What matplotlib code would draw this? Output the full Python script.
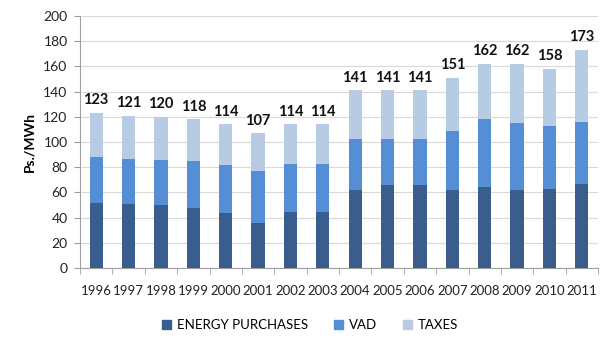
import matplotlib
matplotlib.use("Agg")
import matplotlib.pyplot as plt
import numpy as np
from matplotlib.patches import Patch

years = [str(y) for y in range(1996, 2012)]
energy = [51.5, 50.9, 50.1, 47.7, 43.5, 35.9, 44.3, 44.3, 62.2, 65.7, 65.7, 61.7, 64.1, 62.2, 63.0, 66.7]
vad_top = [87.9, 86.8, 85.7, 84.7, 82.0, 76.8, 82.6, 82.6, 102.1, 102.1, 102.1, 109.0, 118.0, 115.3, 112.7, 115.8]
totals = [123, 121, 120, 118, 114, 107, 114, 114, 141, 141, 141, 151, 162, 162, 158, 173]

vad = [v - e for v, e in zip(vad_top, energy)]
taxes = [t - v for t, v in zip(totals, vad_top)]

plt.rcParams['font.family'] = ['Lato', 'DejaVu Sans']

c_energy = '#395E8E'
c_vad = '#558ED5'
c_tax = '#B7CBE4'

fig = plt.figure(figsize=(6.1, 3.47), dpi=100)
ax = fig.add_axes([80/610, 1-268/347, 518/610, 252/347])

x = np.arange(len(years))
w = 0.41
ax.bar(x, energy, w, color=c_energy, zorder=3)
ax.bar(x, vad, w, bottom=energy, color=c_vad, zorder=3)
ax.bar(x, taxes, w, bottom=vad_top, color=c_tax, zorder=3)

for xi, t in zip(x, totals):
    ax.annotate(str(t), (xi, t), xytext=(0, 4), textcoords='offset points',
                ha='center', va='bottom', fontsize=10.5, fontweight='bold', color='#111111')

ax.set_xlim(-0.5, len(years) - 0.5)
ax.set_ylim(0, 200)
ax.set_yticks(range(0, 201, 20))
ax.yaxis.grid(True, color='#D9D9D9', linewidth=0.8, zorder=0)
ax.set_axisbelow(True)
ax.set_xticks(x)
ax.set_xticklabels(years, fontsize=9.5, color='#222222')
ax.set_xticks(np.arange(-0.5, len(years), 1), minor=True)
ax.tick_params(axis='x', which='major', length=0, pad=12)
ax.tick_params(axis='x', which='minor', length=4, color='#A0A0A0')
ax.tick_params(axis='y', length=4, color='#A0A0A0', labelsize=10, labelcolor='#222222', pad=5)
for s in ['top', 'right']:
    ax.spines[s].set_visible(False)
for s in ['left', 'bottom']:
    ax.spines[s].set_color('#A0A0A0')
ax.set_ylabel('Ps./MWh', fontsize=10, fontweight='bold', labelpad=6)

handles = [Patch(color=c_energy, label='ENERGY PURCHASES'),
           Patch(color=c_vad, label='VAD'),
           Patch(color=c_tax, label='TAXES')]
fig.legend(handles=handles, loc='center', bbox_to_anchor=(310/610, 1-325/347), ncol=3,
           frameon=False, fontsize=9.5, handlelength=0.7, handleheight=0.7,
           handletextpad=0.4, columnspacing=2.0)

fig.savefig('out.png', dpi=100)
